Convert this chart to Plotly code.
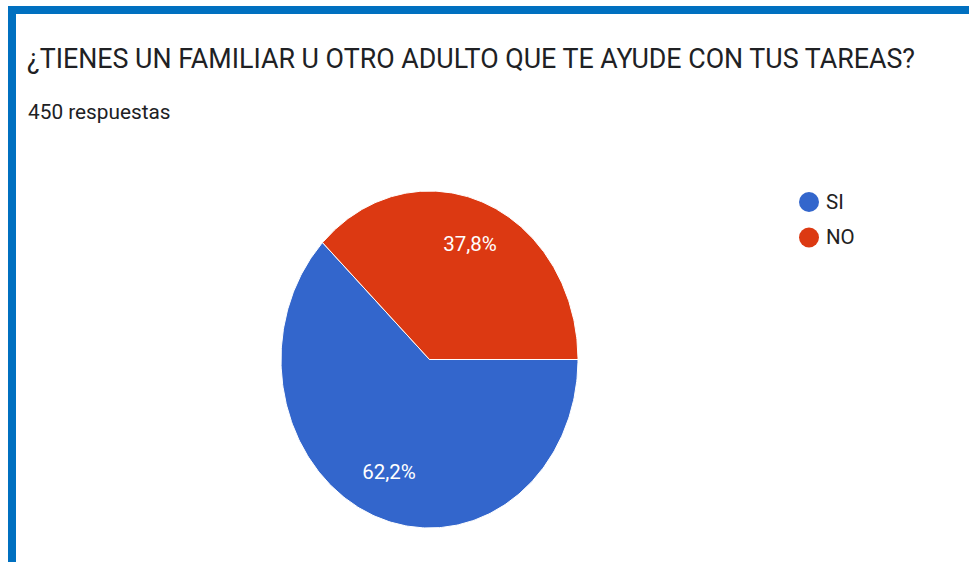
import numpy as np
import plotly.graph_objects as go

# ---- data ----
categories = ["SI", "NO"]
percentages = [62.2, 37.8]
colors = ["#3366CC", "#DC3912"]
title_text = "¿TIENES UN FAMILIAR U OTRO ADULTO QUE TE AYUDE CON TUS TAREAS?"
subtitle_text = "450 respuestas"

W, H = 969, 562
# pie geometry in pixels (ellipse, as in reference)
cx_px, cy_px = 429.5, 359.5
rx_px, ry_px = 148.5, 168.5
start_deg = 90.0  # first slice starts at 3 o'clock, clockwise
label_frac = 0.73

# axis ranges so that the ellipse is the unit circle in data space
x_range = [-cx_px / rx_px, (W - cx_px) / rx_px]
y_range = [-(H - cy_px) / ry_px, cy_px / ry_px]

fig = go.Figure()

total = sum(percentages)
angle = start_deg
lab_x, lab_y, lab_t = [], [], []
for cat, val, col in zip(categories, percentages, colors):
    span = 360.0 * val / total
    t = np.radians(np.linspace(angle, angle + span, 240))
    xs = np.concatenate([[0], np.sin(t), [0]])
    ys = np.concatenate([[0], np.cos(t), [0]])
    fig.add_trace(go.Scatter(
        x=xs, y=ys, mode="lines", fill="toself", fillcolor=col,
        line=dict(color="white", width=1), hoverinfo="skip",
        showlegend=False, name=cat,
    ))
    mid = np.radians(angle + span / 2)
    lab_x.append(label_frac * np.sin(mid))
    lab_y.append(label_frac * np.cos(mid))
    lab_t.append(f"{val:.1f}%".replace(".", ","))
    angle += span

fig.add_trace(go.Scatter(
    x=lab_x, y=lab_y, mode="text", text=lab_t,
    textfont=dict(color="white", size=20.5, family="Roboto"),
    hoverinfo="skip", showlegend=False,
))

# legend (drawn as circles + labels, Google-Forms style)
leg_x_px, leg_y0_px, leg_dy_px, leg_r_px = 809, 202, 35.5, 10
shapes = [
    dict(type="rect", xref="paper", yref="paper", x0=8 / W, x1=1, y0=1 - 14 / H, y1=1 - 6 / H,
         fillcolor="#0070C0", line=dict(width=0)),
    dict(type="rect", xref="paper", yref="paper", x0=8 / W, x1=16 / W, y0=0, y1=1 - 6 / H,
         fillcolor="#0070C0", line=dict(width=0)),
]
annotations = [
    dict(text=title_text, x=25 / W, y=1 - 59 / H, xref="paper", yref="paper",
         xanchor="left", yanchor="middle", showarrow=False,
         font=dict(family="Roboto", size=26.8, color="#202124")),
    dict(text=subtitle_text, x=26 / W, y=1 - 112 / H, xref="paper", yref="paper",
         xanchor="left", yanchor="middle", showarrow=False,
         font=dict(family="Roboto", size=20.8, color="#202124")),
]
for i, (cat, col) in enumerate(zip(categories, colors)):
    yc = leg_y0_px + i * leg_dy_px
    shapes.append(dict(
        type="circle", xref="paper", yref="paper",
        x0=(leg_x_px - leg_r_px) / W, x1=(leg_x_px + leg_r_px) / W,
        y0=1 - (yc + leg_r_px) / H, y1=1 - (yc - leg_r_px) / H,
        fillcolor=col, line=dict(width=0),
    ))
    annotations.append(dict(
        text=cat, x=(leg_x_px + 15) / W, y=1 - yc / H, xref="paper", yref="paper",
        xanchor="left", yanchor="middle", showarrow=False,
        font=dict(family="Roboto", size=20.5, color="#222222"),
    ))

fig.update_layout(
    width=W, height=H,
    margin=dict(l=0, r=0, t=0, b=0),
    paper_bgcolor="white", plot_bgcolor="white",
    showlegend=False,
    xaxis=dict(range=x_range, visible=False, fixedrange=True),
    yaxis=dict(range=y_range, visible=False, fixedrange=True),
    annotations=annotations,
    shapes=shapes,
)

fig.write_html(
    "out.html",
    config={"displayModeBar": False},
    post_script="document.body.style.margin='0';document.body.style.overflow='hidden';",
)
